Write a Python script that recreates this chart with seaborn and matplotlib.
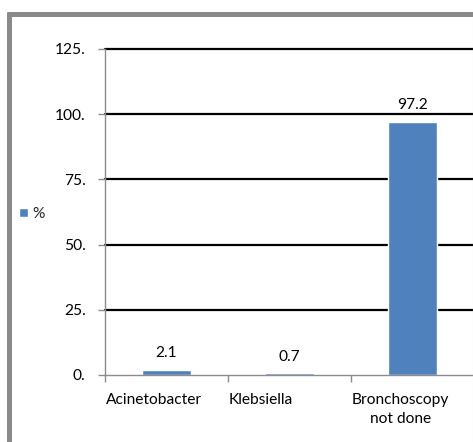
import matplotlib
matplotlib.use("Agg")
import matplotlib.pyplot as plt
import seaborn as sns
import pandas as pd
from matplotlib.lines import Line2D
from matplotlib.transforms import ScaledTranslation
from matplotlib.ticker import FuncFormatter, MultipleLocator

categories = ["Acinetobacter", "Klebsiella", "Bronchoscopy\nnot done"]
values = [2.1, 0.7, 97.2]
series_name = "%"

BAR_COLOR = "#4F81BD"
AXIS_GRAY = "#8C8C8C"
FONT = "Lato"
FS = 11.2

sns.set_theme(style="white")
plt.rcParams["font.family"] = [FONT, "DejaVu Sans"]

W, H = 473, 442
fig = plt.figure(figsize=(W / 100, H / 100), dpi=100)
fig.patch.set_facecolor("white")

# plot area in pixel coordinates (left, top, right, bottom)
L, T, R, B = 105, 49, 474, 375
ax = fig.add_axes([L / W, 1 - B / H, (R - L) / W, (B - T) / H])

df = pd.DataFrame({"category": categories, "value": values})
sns.barplot(data=df, x="category", y="value", color=BAR_COLOR, width=0.4,
            saturation=1, label=series_name, ax=ax)

ax.set_xlim(-0.5, 2.5)
ax.set_ylim(0, 125)
ax.set_xlabel("")
ax.set_ylabel("")

# horizontal gridlines
for yv in [25, 50, 75, 100, 125]:
    ax.axhline(yv, color="black", lw=1.6, zorder=0.5, clip_on=False)

for side in ["top", "right"]:
    ax.spines[side].set_visible(False)
for side in ["left", "bottom"]:
    ax.spines[side].set_color(AXIS_GRAY)
    ax.spines[side].set_linewidth(1.0)

ax.yaxis.set_major_locator(MultipleLocator(25))
ax.yaxis.set_major_formatter(FuncFormatter(lambda v, p: f"{int(v)}."))
ax.tick_params(axis="y", which="major", left=True, length=5, width=1,
               color=AXIS_GRAY, pad=9, labelsize=FS, labelcolor="black")

# category boundary tick marks on x axis
ax.set_xticks([-0.5, 0.5, 1.5, 2.5])
ax.set_xticklabels([])
ax.tick_params(axis="x", which="major", bottom=True, length=5, width=1,
               color=AXIS_GRAY)
ax.set_xticks([0, 1, 2], minor=True)
ax.set_xticklabels(categories, minor=True)
ax.tick_params(axis="x", which="minor", bottom=True, length=0, pad=13,
               labelsize=FS, labelcolor="black")
shift = ScaledTranslation(-((R - L) / 3 / 2 - 1) / 100, 0, fig.dpi_scale_trans)
for lab in ax.get_xticklabels(minor=True):
    lab.set_ha("left")
    lab.set_multialignment("center")
    lab.set_linespacing(1.45)
    lab.set_transform(lab.get_transform() + shift)

# value labels above bars
for patch, v in zip(ax.patches, values):
    ax.annotate(f"{v}", (patch.get_x() + patch.get_width() / 2, v),
                xytext=(0, 6.5), textcoords="offset points",
                ha="center", va="bottom", fontsize=FS, color="black")

ax.legend(loc="center left", bbox_to_anchor=(19 / W, 1 - 214 / H),
          bbox_transform=fig.transFigure, frameon=False, fontsize=FS,
          handlelength=0.55, handleheight=0.55, handletextpad=0.3,
          borderpad=0, borderaxespad=0)

# outer chart frame (left and top edges, faint right edge)
fig.add_artist(Line2D([8.5 / W, 8.5 / W], [0, 1 - 12 / H],
                      transform=fig.transFigure, color="#8A8A8A", lw=3.6,
                      solid_capstyle="butt"))
fig.add_artist(Line2D([6.5 / W, 1], [1 - 14 / H, 1 - 14 / H],
                      transform=fig.transFigure, color="#8A8A8A", lw=3.6,
                      solid_capstyle="butt"))
fig.add_artist(Line2D([472.5 / W, 472.5 / W], [0, 1 - 16 / H],
                      transform=fig.transFigure, color="#E0E0E0", lw=0.8))

fig.savefig("out.png", dpi=100, facecolor="white")
